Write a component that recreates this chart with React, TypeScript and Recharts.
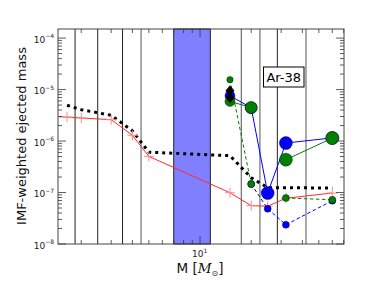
import React from "react";
import {
  LineChart,
  Line,
  XAxis,
  YAxis,
  ReferenceLine,
  ReferenceArea,
} from "recharts";

// model masses (Msun)
const masses = [1, 1.65, 2, 3, 4, 5, 15, 20, 25, 32, 60];

// IMF-weighted Ar-38 yields, one list per set
const redYields = [3.17e-6, 2.92e-6, 2.8e-6, 2.6e-6, 1.29e-6, 5.03e-7, 9.9e-8, 5.55e-8, 5.42e-8, 7.75e-8, 9.77e-8];
const blackYields = [null, 4.95e-6, 4.06e-6, 3.17e-6, 1.58e-6, 6.07e-7, 5.19e-7, 1.94e-7, 1.24e-7, 1.24e-7, 1.22e-7];
const blueYields = [null, null, null, null, null, null, 7.6e-6, 4.42e-6, 9.77e-8, 9.14e-7, 1.15e-6];
const greenYields = [null, null, null, null, null, null, 5.87e-6, 4.49e-6, null, 4.34e-7, 1.14e-6];
const blueDashYields = [null, null, null, null, null, null, null, 1.46e-7, 4.84e-8, 2.37e-8, 6.93e-8];
const greenDashYields = [null, null, null, null, null, null, 1.55e-5, 1.46e-7, null, 7.82e-8, 7.24e-8];
const diamondUpper = [null, null, null, null, null, null, 9.5e-6, null, null, null, null];
const diamondLower = [null, null, null, null, null, null, 6.93e-6, null, null, null, null];

// mass bin boundaries and the excluded band
const darkEdges = [1.84, 2.5, 3.5, 28.5];
const midEdges = [17.5];
const grayEdges = [4.5, 22.5, 42];
const band = [7, 11.5];

const xTicks = [2, 3, 4, 5, 6, 7, 8, 9, 10, 20, 30, 40, 50, 60, 70];
const yDecades = [1e-8, 1e-7, 1e-6, 1e-5];
const yMult = [1, 2, 3, 4, 5, 6, 7, 8, 9];
const yTicks = [...yDecades.flatMap((d) => yMult.map((m) => m * d)), 1e-4];

const data = masses.map((m, i) => ({
  m,
  red: redYields[i],
  black: blackYields[i],
  blue: blueYields[i],
  green: greenYields[i],
  blueDash: blueDashYields[i],
  greenDash: greenDashYields[i],
  dUp: diamondUpper[i],
  dLo: diamondLower[i],
}));

const W = 382;
const H = 288;
const PL = 58;
const PR = 344;
const PT = 29;
const PB = 244;
const FONT = "DejaVu Sans";

const isMajor = (v: number) => {
  const lg = Math.log10(v);
  return Math.abs(lg - Math.round(lg)) < 1e-6;
};

const YTick = (props: any) => {
  const { y, payload } = props;
  const v = payload.value;
  const major = isMajor(v);
  const len = major ? 8 : 4;
  return (
    <g>
      <line x1={PL} x2={PL + len} y1={y} y2={y} stroke="#333" strokeWidth={0.8} />
      <line x1={PR - len} x2={PR} y1={y} y2={y} stroke="#333" strokeWidth={0.8} />
      {major && (
        <text x={54} y={y + 4.5} textAnchor="end" fontSize={9} fill="#222" fontFamily={FONT}>
          10
          <tspan fontSize={6} dy={-4.5}>
            {"\u2212" + Math.round(-Math.log10(v))}
          </tspan>
        </text>
      )}
    </g>
  );
};

const XTick = (props: any) => {
  const { x, payload } = props;
  const major = isMajor(payload.value);
  const len = major ? 8 : 4;
  return (
    <g>
      <line x1={x} x2={x} y1={PB} y2={PB - len} stroke="#333" strokeWidth={0.8} />
      <line x1={x} x2={x} y1={PT} y2={PT + len} stroke="#333" strokeWidth={0.8} />
      {major && (
        <text x={x - 8} y={257} fontSize={9} fill="#222" fontFamily={FONT}>
          10
          <tspan fontSize={6} dy={-4}>
            {Math.round(Math.log10(payload.value))}
          </tspan>
        </text>
      )}
    </g>
  );
};

const circleDot = (fill: string, radius: (m: number) => number) => (props: any) => {
  const { cx, cy, value, index, payload } = props;
  if (value == null || cy == null) return <g key={`e-${index}`} />;
  return (
    <circle
      key={`c-${index}`}
      cx={cx}
      cy={cy}
      r={radius(payload.m)}
      fill={fill}
      stroke="#000"
      strokeWidth={0.4}
    />
  );
};

const bigR = (m: number) => (m < 18 ? 5 : m < 22 ? 6 : 6.5);
const smallR = (m: number) => (m < 18 ? 3.2 : 3.5);

const plusDot = (props: any) => {
  const { cx, cy, value, index } = props;
  if (value == null || cy == null) return <g key={`e-${index}`} />;
  return (
    <g key={`p-${index}`} stroke="#ff8a8a" strokeWidth={1}>
      <line x1={cx - 5} x2={cx + 5} y1={cy} y2={cy} />
      <line x1={cx} x2={cx} y1={cy - 5} y2={cy + 5} />
    </g>
  );
};

const diamondDot = (props: any) => {
  const { cx, cy, value, index } = props;
  if (value == null || cy == null) return <g key={`e-${index}`} />;
  return (
    <polygon
      key={`d-${index}`}
      points={`${cx},${cy - 5.5} ${cx + 4.5},${cy} ${cx},${cy + 5.5} ${cx - 4.5},${cy}`}
      fill="#000"
    />
  );
};

export default function App() {
  return (
    <div style={{ position: "absolute", left: 0, top: 0, width: W, height: H, background: "#fff" }}>
      <LineChart
        width={W}
        height={H}
        data={data}
        margin={{ top: PT, right: W - PR, bottom: 14, left: 8 }}
      >
        <XAxis
          dataKey="m"
          type="number"
          scale="log"
          domain={[1.46, 70.3]}
          allowDataOverflow
          ticks={xTicks}
          interval={0}
          height={30}
          axisLine={false}
          tickLine={false}
          tick={XTick}
        />
        <YAxis
          type="number"
          scale="log"
          domain={[1e-8, 1.5e-4]}
          allowDataOverflow
          ticks={yTicks}
          interval={0}
          width={50}
          axisLine={false}
          tickLine={false}
          tick={YTick}
        />
        <ReferenceArea x1={band[0]} x2={band[1]} fill="#8080ff" fillOpacity={1} stroke="#222" strokeWidth={1} />
        {grayEdges.map((e) => (
          <ReferenceLine key={`g${e}`} x={e} stroke="#a0a0a0" strokeWidth={1.8} />
        ))}
        {midEdges.map((e) => (
          <ReferenceLine key={`m${e}`} x={e} stroke="#777" strokeWidth={1.3} />
        ))}
        {darkEdges.map((e) => (
          <ReferenceLine key={`d${e}`} x={e} stroke="#222" strokeWidth={1} />
        ))}
        <Line
          dataKey="red"
          type="linear"
          stroke="#ff2a2a"
          strokeWidth={1}
          dot={plusDot}
          isAnimationActive={false}
        />
        <Line
          dataKey="black"
          type="linear"
          stroke="#000"
          strokeWidth={3}
          strokeDasharray="3 4"
          dot={false}
          isAnimationActive={false}
        />
        <Line
          dataKey="blue"
          type="linear"
          stroke="#0000ff"
          strokeWidth={1}
          dot={circleDot("#0000ff", bigR)}
          isAnimationActive={false}
        />
        <Line
          dataKey="green"
          type="linear"
          stroke="#008000"
          strokeWidth={1}
          dot={circleDot("#008000", bigR)}
          isAnimationActive={false}
        />
        <Line
          dataKey="blueDash"
          type="linear"
          stroke="#0000ff"
          strokeWidth={1}
          strokeDasharray="3.5 2.5"
          dot={circleDot("#0000ff", smallR)}
          isAnimationActive={false}
        />
        <Line
          dataKey="greenDash"
          type="linear"
          stroke="#008000"
          strokeWidth={1}
          strokeDasharray="3.5 2.5"
          dot={circleDot("#008000", smallR)}
          isAnimationActive={false}
        />
        <Line dataKey="dUp" stroke="none" dot={diamondDot} isAnimationActive={false} />
        <Line dataKey="dLo" stroke="none" dot={diamondDot} isAnimationActive={false} />
      </LineChart>
      <svg
        width={W}
        height={H}
        style={{ position: "absolute", left: 0, top: 0, pointerEvents: "none" }}
        fontFamily={FONT}
      >
        <rect x={PL} y={PT} width={PR - PL} height={PB - PT} fill="none" stroke="#444" strokeWidth={1} />
        <rect x={263.5} y={67} width={40.5} height={20} fill="#fff" stroke="#000" strokeWidth={1} />
        <text x={283.7} y={81.5} textAnchor="middle" fontSize={13} fill="#000">
          Ar-38
        </text>
        <text x={200} y={273} textAnchor="middle" fontSize={13.5} fill="#111">
          M [
          <tspan fontFamily="DejaVu Serif" fontStyle="italic">M</tspan>
          <tspan fontSize={8} dy={3}>{"\u2299"}</tspan>
          <tspan dy={-3}>]</tspan>
        </text>
        <text
          transform="translate(26,136) rotate(-90)"
          textAnchor="middle"
          fontSize={13}
          fill="#111"
        >
          IMF-weighted ejected mass
        </text>
      </svg>
    </div>
  );
}
